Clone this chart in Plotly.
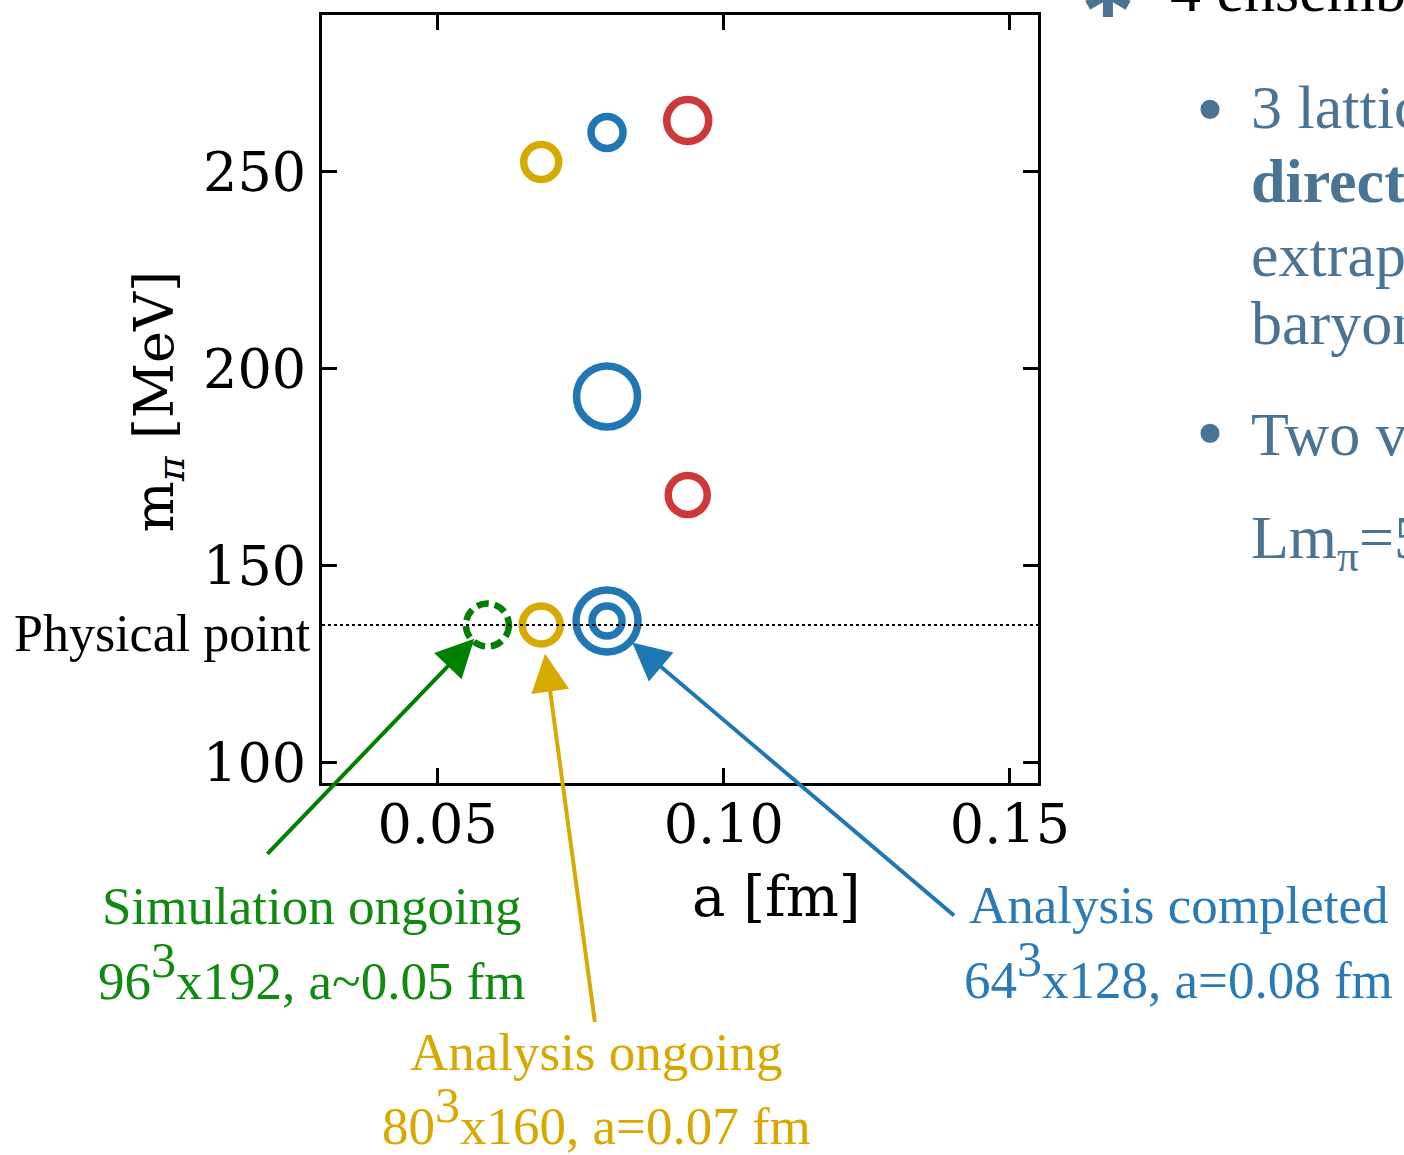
import plotly.graph_objects as go

# Lattice ensembles: spacing a [fm] and pion mass [MeV]
a_red = [0.0937, 0.0937]
m_red = [263.0, 168.0]

a_blue = [0.0796, 0.0796, 0.0796, 0.0796]
m_blue = [260.0, 193.0, 136.0, 136.0]

a_yellow = [0.0681, 0.0681]
m_yellow = [252.5, 135.0]

a_green = [0.0587]
m_green = [135.0]

m_phys = 135.0

x_ticks = [0.05, 0.10, 0.15]
x_tick_labels = ["0.05", "0.10", "0.15"]
y_ticks = [100, 150, 200, 250]

# colours
RED = "#cf3838"
BLUE = "#1f77b4"
YELLOW = "#d6aa00"
GREEN = "#008000"
SLATE = "#4a7394"
CLEAR = "rgba(0,0,0,0)"

W, H = 1404, 1155
L, R, T, B = 322, 1038, 12, 783


def px(x):
    return (x - L) / (R - L)


def py(y):
    return (B - y) / (B - T)


fig = go.Figure()

ring = 7.5


def rings(xs, ys, sizes, color):
    return go.Scatter(
        x=xs, y=ys, mode="markers",
        marker=dict(symbol="circle", size=sizes, color=CLEAR, opacity=1,
                    line=dict(width=ring, color=color)),
        showlegend=False, hoverinfo="x+y")


fig.add_trace(rings(a_red, m_red, [42, 39], RED))
fig.add_trace(rings(a_blue, m_blue, [32, 61, 62, 30], BLUE))
fig.add_trace(rings(a_yellow, m_yellow, [35, 38], YELLOW))

# ongoing simulation: dashed ring anchored at its data point
for xa, ym in zip(a_green, m_green):
    fig.add_shape(type="circle", xref="x", yref="y",
                  xsizemode="pixel", ysizemode="pixel",
                  xanchor=xa, yanchor=ym, x0=-21.5, x1=21.5, y0=-21.5, y1=21.5,
                  line=dict(color=GREEN, width=6.5, dash="12px,6px"))

# physical point line
fig.add_shape(type="line", xref="paper", yref="y", x0=0, x1=1, y0=m_phys, y1=m_phys,
              line=dict(color="black", width=2, dash="dot"))

serif = "DejaVu Serif"
slide = "Liberation Serif"

fig.update_layout(
    width=W, height=H, autosize=False,
    margin=dict(l=L, r=W - R, t=T, b=H - B, pad=0),
    paper_bgcolor="white", plot_bgcolor="white",
    xaxis=dict(range=[0.0298, 0.1549], tickvals=x_ticks, ticktext=x_tick_labels,
               ticks="inside", ticklen=15, tickwidth=3, tickcolor="black",
               showline=True, linewidth=3, linecolor="black", mirror="ticks",
               showgrid=False, zeroline=False, ticklabelstandoff=-8,
               tickfont=dict(family=serif, size=54, color="black")),
    yaxis=dict(range=[94.9, 289.8], tickvals=y_ticks,
               ticks="inside", ticklen=15, tickwidth=3, tickcolor="black",
               showline=True, linewidth=3, linecolor="black", mirror="ticks",
               showgrid=False, zeroline=False, ticklabelstandoff=2,
               tickfont=dict(family=serif, size=54, color="black")),
)

ann = []
# axis titles
ann.append(dict(text="a [fm]", xref="paper", yref="paper", x=px(776), y=py(897),
                xanchor="center", yanchor="middle", showarrow=False,
                font=dict(family=serif, size=56, color="black")))
ann.append(dict(text="m<sub><i>π</i></sub> [MeV]", xref="paper", yref="paper", x=px(158), y=py(400),
                xanchor="center", yanchor="middle", textangle=-90, showarrow=False,
                font=dict(family=serif, size=54, color="black")))
ann.append(dict(text="Physical point", xref="paper", yref="paper", x=px(313), y=py(633),
                xanchor="right", yanchor="middle", showarrow=False,
                font=dict(family=slide, size=52, color="black")))

# arrows to the ensembles at the physical point
arrow = dict(xref="x", yref="y", text=" ", showarrow=True, arrowhead=2,
             arrowsize=1.9, arrowwidth=4)
ann.append(dict(arrow, x=a_green[0], y=m_green[0], ax=-223, ay=232,
                arrowcolor=GREEN, standoff=19))
ann.append(dict(arrow, x=a_yellow[1], y=m_yellow[1], ax=55, ay=407,
                arrowcolor=YELLOW, standoff=29))
ann.append(dict(arrow, x=a_blue[2], y=m_blue[2], ax=350, ay=297,
                arrowcolor=BLUE, standoff=33))

# ensemble captions
sup3 = '<sup><span style="font-size:50px">3</span></sup>'
captions = [
    ("Simulation ongoing", 312, 906, "#108a10"),
    ("96" + sup3 + "x192, a~0.05 fm", 312, 972, "#108a10"),
    ("Analysis ongoing", 596, 1053, "#d6a800"),
    ("80" + sup3 + "x160, a=0.07 fm", 596, 1117, "#d6a800"),
    ("Analysis completed", 1179, 905, "#2a7ab8"),
    ("64" + sup3 + "x128, a=0.08 fm", 1178, 971, "#2a7ab8"),
]
for t, x, y, c in captions:
    ann.append(dict(text=t, xref="paper", yref="paper", x=px(x), y=py(y),
                    xanchor="center", yanchor="middle", showarrow=False,
                    font=dict(family=slide, size=53, color=c)))

# slide text running off the right edge
ann.append(dict(text="✱", xref="paper", yref="paper", x=px(1108), y=py(-8),
                xanchor="center", yanchor="middle", showarrow=False,
                font=dict(family="DejaVu Sans", size=64, color=SLATE)))
ann.append(dict(text="4 ensembles", xref="paper", yref="paper", x=px(1168), y=py(-13),
                xanchor="left", yanchor="middle", showarrow=False,
                font=dict(family=slide, size=62, color="black")))
slide_lines = [
    ("3 lattice spacings", 104),
    ("<b>directly</b>", 179),
    ("extrapolation", 253),
    ("baryon", 321),
    ("Two volumes", 433),
    ("Lm<sub>π</sub>=5", 541),
]
for t, y in slide_lines:
    ann.append(dict(text=t, xref="paper", yref="paper", x=px(1249), y=py(y),
                    xanchor="left", yanchor="middle", showarrow=False,
                    font=dict(family=slide, size=62, color=SLATE)))
for y in [106, 432]:
    ann.append(dict(text="•", xref="paper", yref="paper", x=px(1210), y=py(y),
                    xanchor="center", yanchor="middle", showarrow=False,
                    font=dict(family=slide, size=80, color=SLATE)))

fig.update_layout(annotations=ann)
fig.write_html("out.html")
